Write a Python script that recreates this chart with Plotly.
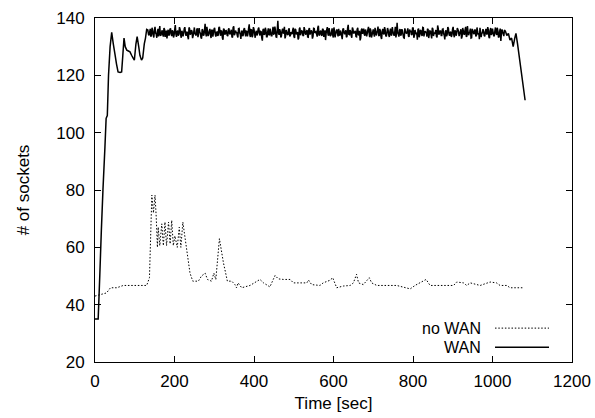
import plotly.graph_objects as go

# ---------------- data ----------------
# "no WAN" series (time in sec, # of sockets)
nowan_time = [0, 12, 29, 39, 55, 71, 100, 130, 137, 140,
              143, 147, 151, 154, 157, 159, 163, 168, 172, 176,
              180, 185, 189, 193, 197, 201, 207, 212, 216, 221,
              226, 231, 239, 246, 260, 268, 277, 283, 293, 299,
              304, 313, 323, 333, 344, 352, 356, 360, 369, 390,
              407, 415, 424, 440, 453, 461, 474, 491, 499, 533,
              537, 545, 566, 574, 591, 598, 608, 625, 642, 650,
              658, 663, 675, 690, 696, 709, 759, 776, 793, 805,
              833, 843, 902, 910, 927, 935, 944, 969, 994, 1010,
              1019, 1036, 1044, 1076]
nowan_sockets = [43, 43.5, 44.1, 45.9, 45.9, 46.7, 46.7, 46.7, 49.4, 66,
                 78.2, 72, 78.2, 70.6, 60, 67, 60.6, 68.2, 60.6, 68.8,
                 60.6, 68.8, 61.2, 69.4, 60.6, 64, 60, 67, 60, 68.8,
                 63.5, 58, 51, 48.2, 48.2, 50, 51, 48.8, 48.2, 51,
                 48.8, 63, 54.7, 48.2, 48.2, 47, 45.9, 47.6, 45.9, 46.7,
                 48.2, 48.8, 47.6, 46.2, 50.2, 49, 48.8, 48.8, 47.6, 47.6,
                 48.6, 47, 46.7, 47.6, 48.5, 49.4, 45.9, 46.5, 46.7, 47.6,
                 50.6, 47.6, 47, 49.4, 47.6, 46.7, 46.7, 46.2, 45.5, 46.7,
                 48.8, 46.7, 46.7, 47.9, 47.6, 46.7, 47.6, 46.7, 47.9, 47.6,
                 46.7, 46.7, 45.9, 45.9]

# "WAN" series: ramp-up phase
wan_time_start = [0, 8, 12, 16, 20, 25, 28, 31, 34, 38, 42, 46, 50, 54, 58, 63, 67, 70,
                  73, 76, 80, 84, 88, 92, 96, 99, 103, 106, 110, 113, 117, 120, 124, 127, 130]
wan_sockets_start = [35, 35, 50, 66, 80, 95, 105, 106, 120, 130, 135, 131, 127.6, 124, 121.2,
                     121, 121.2, 127, 133, 130, 128.8, 128.5, 128.2, 127, 126, 125.3, 131,
                     133.5, 130, 127, 125.3, 126, 131, 133, 136]

# "WAN" series: steady phase, samples every 3 s starting at t = 133 (set A)
wan_steady_t0 = 133
wan_steady_step = 3
wan_sockets_steady_a = [
    135.8, 133.9, 136.2, 134.1, 135.5, 133.2, 136.9, 134.4, 135.1, 133.6, 137.2, 134.0, 135.7, 133.5, 136.0, 134.8, 132.9, 135.9, 134.2, 136.4,
    133.7, 135.3, 134.0, 137.5, 133.4, 135.6, 134.3, 136.1, 133.1, 135.0, 134.6, 136.8, 133.8, 135.2, 132.6, 136.3, 134.5, 135.4, 133.9, 136.7,
    134.2, 135.9, 133.3, 136.5, 134.7, 132.8, 135.8, 134.1, 138.0, 133.6, 135.3, 134.4, 136.2, 133.0, 135.7, 134.9, 136.6, 133.5, 135.1, 134.0,
    136.9, 133.8, 135.4, 132.4, 136.0, 134.6, 135.2, 133.7, 136.4, 134.3, 135.9, 133.2, 137.1, 134.5, 135.0, 133.9, 136.3, 134.8, 132.7, 135.6,
    134.1, 136.5, 133.6, 135.3, 134.7, 137.8, 133.4, 135.8, 134.0, 136.1, 133.1, 135.5, 134.6, 136.7, 133.9, 135.2, 132.1, 136.2, 134.4, 135.7,
    133.5, 136.4, 134.2, 135.0, 133.8, 136.9, 134.5, 135.6, 133.3, 139.0, 134.1, 135.4, 133.7, 136.3, 134.9, 132.9, 135.8, 134.3, 136.0, 133.6,
    135.1, 134.4, 136.6, 133.0, 135.9, 134.7, 132.5, 136.2, 134.0, 135.5, 133.9, 136.8, 134.6, 135.3, 133.4, 136.1, 134.2, 135.7, 132.8, 136.4,
    134.8, 135.2, 133.5, 137.3, 134.1, 135.6, 133.8, 136.0, 134.9, 132.3, 135.9, 134.4, 136.5, 133.7, 135.1, 134.0, 136.7, 133.2, 135.4, 134.6,
    136.2, 133.9, 135.0, 132.6, 136.4, 134.3, 135.7, 133.6, 137.6, 134.2, 135.3, 133.1, 136.1, 134.8, 135.5, 133.4, 136.6, 134.0, 132.2, 135.8,
    134.5, 136.3, 133.8, 135.1, 134.7, 136.9, 133.3, 135.6, 134.1, 136.0, 133.5, 135.2, 134.9, 137.0, 133.7, 135.4, 132.7, 136.2, 134.3, 135.9,
    133.6, 136.5, 134.0, 135.3, 133.9, 136.8, 134.6, 135.0, 133.2, 138.3, 134.4, 135.7, 133.8, 136.1, 134.2, 133.0, 135.5, 134.7, 136.4, 133.4,
    135.2, 134.1, 136.7, 133.1, 135.8, 134.5, 132.4, 136.3, 134.0, 135.6, 133.7, 136.6, 134.8, 135.1, 133.5, 136.0, 134.3, 135.4, 132.9, 136.2,
    134.9, 135.0, 133.6, 137.4, 134.2, 135.5, 133.9, 136.1, 134.6, 132.5, 135.7, 134.3, 136.4, 133.8, 135.2, 134.1, 136.9, 133.3, 135.3, 134.7,
    136.0, 133.7, 135.1, 132.8, 136.5, 134.4, 135.9, 133.5, 137.2, 134.0, 135.4, 133.0, 136.2, 134.8, 135.6, 133.6, 136.7, 134.2, 132.6, 135.0,
    134.6, 136.1, 133.9, 135.2, 134.5, 136.8, 133.4, 135.7, 134.1, 136.3, 133.8, 135.5, 134.7, 136.6, 133.2, 135.3, 132.0, 136.0, 134.4, 135.8,
]
# set B: samples in between (t = 134.5 + 3 i)
wan_sockets_steady_b = [
    134.3, 135.1, 133.5, 136.6, 134.0, 135.9, 134.8, 133.1, 136.2, 135.4, 133.8, 135.0, 134.2, 136.5, 133.4, 135.6, 134.7, 133.9, 136.1, 134.5,
    135.7, 133.2, 136.0, 134.4, 135.3, 133.8, 136.8, 134.1, 135.5, 133.6, 136.3, 134.9, 135.0, 133.4, 136.7, 134.2, 135.8, 133.0, 135.2, 134.6,
    133.9, 136.4, 134.5, 135.1, 133.3, 136.1, 134.0, 135.7, 134.8, 136.9, 133.7, 135.4, 134.1, 135.9, 133.5, 136.2, 134.4, 135.0, 133.8, 136.6,
    134.7, 135.5, 133.1, 136.3, 134.2, 135.8, 133.9, 136.0, 134.6, 135.2, 133.4, 136.7, 134.0, 135.6, 134.9, 133.2, 136.4, 134.3, 135.1, 133.7,
    136.1, 134.8, 135.4, 133.6, 136.5, 134.1, 135.9, 133.3, 136.8, 134.5, 135.0, 133.9, 136.2, 134.7, 135.3, 133.1, 135.8, 134.2, 136.6, 133.5,
    135.2, 134.0, 136.3, 133.8, 135.6, 134.4, 137.0, 133.4, 135.7, 134.9, 136.1, 133.2, 135.5, 134.6, 136.9, 133.7, 135.0, 134.1, 136.4, 133.9,
    134.6, 135.9, 133.5, 136.2, 134.3, 135.1, 133.0, 136.7, 134.8, 135.4, 133.7, 136.0, 134.2, 135.8, 133.3, 136.5, 134.9, 135.2, 133.6, 136.3,
    135.0, 134.4, 136.6, 133.9, 135.3, 134.1, 136.2, 133.4, 135.7, 134.7, 136.8, 133.8, 135.1, 134.0, 136.4, 133.2, 135.6, 134.5, 136.0, 133.6,
    134.1, 135.6, 133.7, 136.1, 134.9, 135.0, 133.3, 136.5, 134.3, 135.8, 133.9, 136.7, 134.6, 135.2, 133.5, 136.0, 134.2, 135.5, 133.1, 136.3,
    135.4, 134.2, 136.0, 133.6, 135.9, 134.8, 136.4, 133.2, 135.1, 134.5, 136.6, 133.9, 135.7, 134.0, 136.2, 133.4, 135.3, 134.7, 136.8, 133.8,
    134.9, 135.7, 133.4, 136.3, 134.1, 135.2, 133.8, 136.9, 134.6, 135.0, 133.5, 136.1, 134.3, 135.6, 133.1, 136.4, 134.8, 135.3, 133.7, 136.0,
    135.6, 134.3, 136.5, 133.9, 135.1, 134.6, 136.0, 133.3, 135.8, 134.2, 136.7, 133.6, 135.4, 134.9, 136.2, 133.0, 135.5, 134.1, 136.6, 133.7,
    134.4, 135.8, 133.2, 136.4, 134.7, 135.5, 133.9, 136.2, 134.0, 135.3, 133.6, 136.8, 134.5, 135.0, 133.4, 136.1, 134.2, 135.7, 133.8, 136.5,
    135.3, 134.6, 136.1, 133.5, 135.7, 134.2, 136.9, 133.7, 135.0, 134.8, 136.3, 133.1, 135.6, 134.4, 136.0, 133.9, 135.2, 134.7, 136.6, 133.3,
    134.8, 135.4, 133.6, 136.2, 134.3, 135.9, 133.0, 136.5, 134.6, 135.1, 133.8, 136.7, 134.1, 135.5, 133.5, 136.3, 134.9, 135.0, 133.7, 135.6,
]

# "WAN" series: tail
wan_time_end = [1033, 1036, 1040, 1044, 1048, 1052, 1056, 1059, 1063, 1082]
wan_sockets_end = [135.2, 133.9, 134.6, 132.3, 133.0, 130.0, 133.0, 134.6, 131.0, 111.3]

x_ticks = [0, 200, 400, 600, 800, 1000, 1200]
y_ticks = [20, 40, 60, 80, 100, 120, 140]

# build WAN arrays (interleave the two steady sample sets)
wan_time_steady = []
wan_sockets_steady = []
for i, (va, vb) in enumerate(zip(wan_sockets_steady_a, wan_sockets_steady_b)):
    t = wan_steady_t0 + i * wan_steady_step
    wan_time_steady += [t, t + wan_steady_step / 2]
    wan_sockets_steady += [va, vb]
wan_time = wan_time_start + wan_time_steady + wan_time_end
wan_sockets = wan_sockets_start + wan_sockets_steady + wan_sockets_end

FONT = "Liberation Sans, Arial, Helvetica, sans-serif"
FS = 17

fig = go.Figure()
fig.add_trace(go.Scatter(x=nowan_time, y=nowan_sockets, mode="lines", name="no WAN",
                         line=dict(color="#000000", width=1, dash="1.5px,1.8px"),
                         showlegend=False))
fig.add_trace(go.Scatter(x=wan_time, y=wan_sockets, mode="lines", name="WAN",
                         line=dict(color="#000000", width=1.5, simplify=False),
                         showlegend=False))

axis_common = dict(showgrid=False, zeroline=False, showline=True, linecolor="black",
                   linewidth=1, mirror="ticks", ticks="inside", ticklen=6,
                   tickcolor="black", tickwidth=1, automargin=False,
                   tickfont=dict(family=FONT, size=FS, color="black"))

fig.update_xaxes(range=[0, 1200], tickvals=x_ticks, ticktext=[str(v) for v in x_ticks],
                 title=dict(text="Time [sec]", font=dict(family=FONT, size=FS, color="black"),
                            standoff=6),
                 ticklabelstandoff=4, **axis_common)
fig.update_yaxes(range=[20, 140], tickvals=y_ticks, ticktext=[str(v) for v in y_ticks],
                 title=dict(text="# of sockets", font=dict(family=FONT, size=FS, color="black"),
                            standoff=22),
                 ticklabelstandoff=6, **axis_common)

# legend drawn inside the plot (text left of the line sample)
leg_x_text = 0.8107
leg_x0, leg_x1 = 0.8386, 0.9518
leg_rows = [("no WAN", 0.0985, dict(color="#000000", width=1, dash="1.5px,1.8px")),
            ("WAN", 0.0430, dict(color="#000000", width=1.5))]
for label, yy, ln in leg_rows:
    fig.add_annotation(x=leg_x_text, y=yy, xref="paper", yref="paper", text=label,
                       showarrow=False, xanchor="right", yanchor="middle", borderpad=0,
                       font=dict(family=FONT, size=16, color="black"))
    fig.add_shape(type="line", xref="paper", yref="paper", x0=leg_x0, x1=leg_x1,
                  y0=yy, y1=yy, line=ln)

fig.update_layout(width=595, height=418, margin=dict(l=95, r=23, t=18, b=56),
                  plot_bgcolor="white", paper_bgcolor="white",
                  font=dict(family=FONT, size=FS, color="black"))

fig.write_html("out.html", config={"displayModeBar": False},
               post_script="document.body.style.margin='0';document.body.style.padding='0';")
